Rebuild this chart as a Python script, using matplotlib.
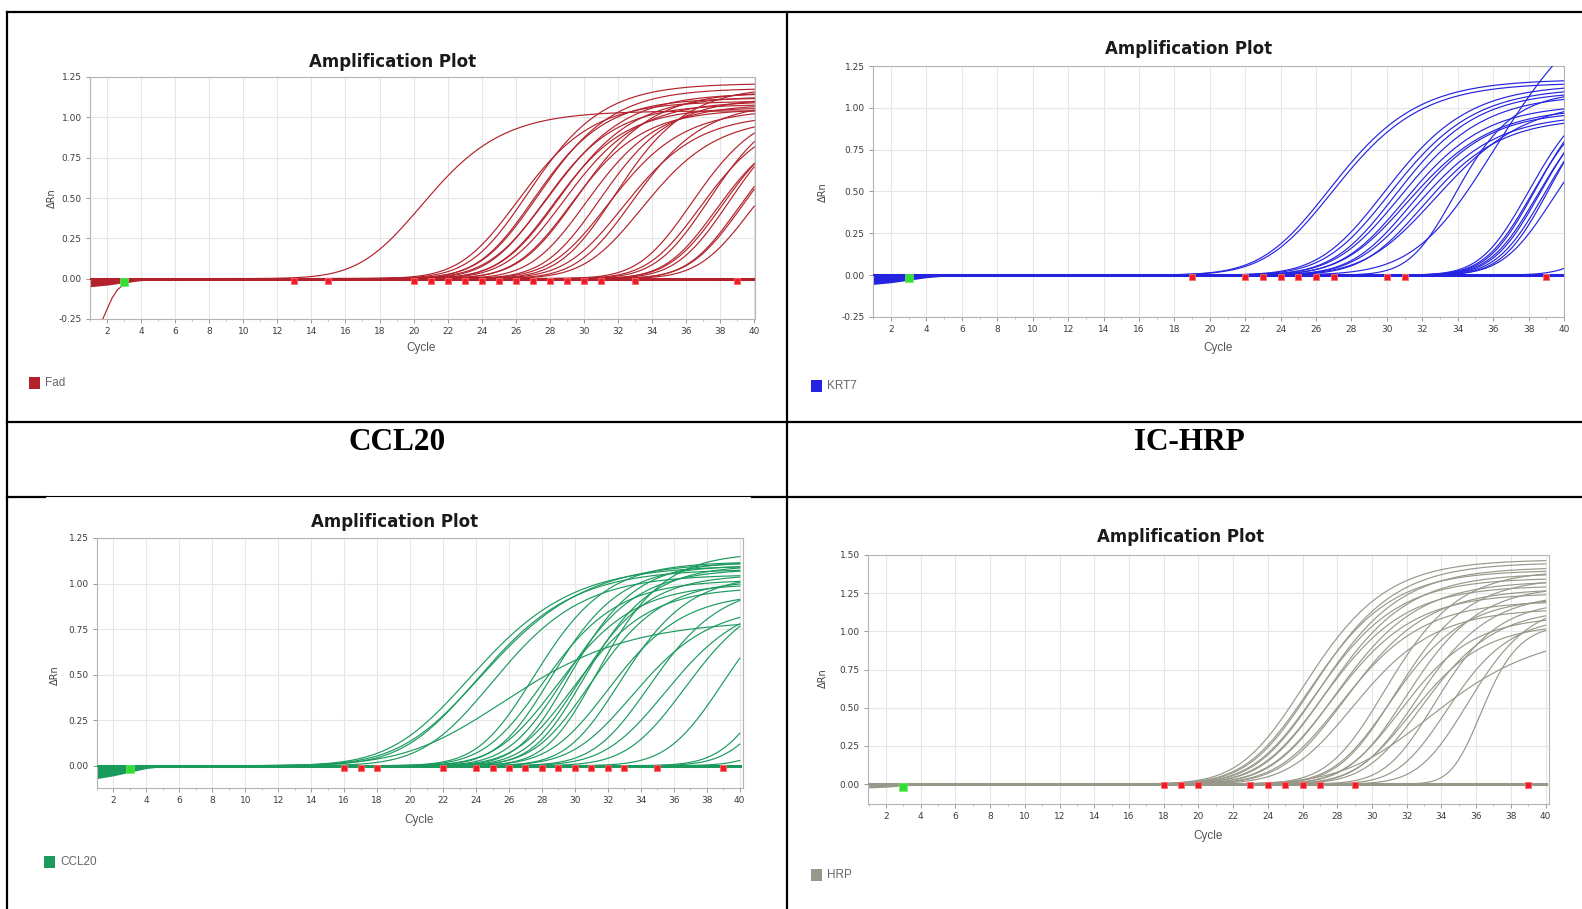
import numpy as np
import matplotlib
matplotlib.use("Agg")
import matplotlib.pyplot as plt
from matplotlib.patches import Rectangle

W, H = 1582, 909

# --- data ----------------------------------------------------------------
# every amplification curve: cycle at half plateau, plateau, width (cycles)
fad_half = [21.0, 26.6, 27.2, 27.5, 27.8, 28.1, 28.4, 28.7, 29.0, 29.3, 29.7,
            30.1, 30.6, 31.4, 31.9, 32.3, 32.8, 33.3, 33.9, 36.8, 37.3, 37.8,
            38.2, 38.6, 39.0, 39.5, 39.8, 40.3]
fad_top = [1.04, 1.10, 1.21, 1.12, 1.18, 1.08, 1.15, 1.06, 1.13, 1.10, 1.05,
           1.16, 1.08, 1.12, 1.05, 1.19, 1.02, 1.09, 1.00, 1.08, 1.02, 1.12,
           0.98, 1.05, 1.10, 1.00, 1.05, 0.98]
fad_width = [2.6, 2.4, 2.4, 2.3, 2.4, 2.3, 2.5, 2.3, 2.4, 2.4, 2.3,
             2.4, 2.3, 2.3, 2.4, 2.3, 2.4, 2.3, 2.4, 2.2, 2.2, 2.2,
             2.1, 2.2, 2.2, 2.1, 2.2, 2.2]
fad_ct = [13, 15, 20, 21, 22, 23, 24, 25, 26, 27, 28, 29, 30, 31, 33, 39]
fad_dip_cycles = [1.0, 1.5, 1.75, 2.0, 2.3, 2.6, 3.0, 3.5, 4.0, 5.0]
fad_dip_values = [-0.45, -0.32, -0.25, -0.19, -0.12, -0.07, -0.035, -0.015, -0.006, 0.0]
fad_base_low = [-0.05, -0.04, -0.025, -0.012, -0.005, 0.0]

krt_half = [27.3, 27.5, 30.4, 30.7, 31.0, 31.3, 31.5, 31.7, 31.9, 32.2, 32.5,
            33.3, 34.2, 36.8, 38.4, 38.6, 38.8, 38.9, 39.1, 39.3, 39.6, 39.8, 44.0]
krt_top = [1.17, 1.15, 1.14, 1.12, 1.10, 1.08, 1.02, 1.00, 0.98, 0.96, 0.94,
           1.05, 1.10, 1.75, 1.15, 1.12, 1.18, 1.10, 1.15, 1.12, 1.20, 1.05, 1.00]
krt_width = [2.7, 2.7, 2.6, 2.6, 2.5, 2.6, 2.5, 2.6, 2.4, 2.5, 2.4,
             2.8, 1.8, 3.2, 1.9, 1.9, 1.9, 1.9, 1.9, 1.9, 1.9, 2.0, 1.9]
krt_ct = [19, 22, 23, 24, 25, 26, 27, 30, 31, 39]
krt_base_low = [-0.055, -0.045, -0.03, -0.015, -0.006, 0.0]

ccl_half = [24.3, 24.7, 25.0, 25.6, 26.5, 28.0, 28.5, 29.0, 29.4, 29.8, 30.1,
            30.4, 30.7, 31.0, 31.4, 31.8, 32.5, 33.2, 34.0, 35.0, 36.0, 37.2,
            39.5, 42.5, 43.0, 45.0]
ccl_top = [1.10, 1.08, 1.12, 1.05, 0.80, 1.12, 1.02, 1.10, 1.00, 1.08, 1.12,
           0.98, 1.05, 1.10, 1.02, 1.17, 0.95, 1.05, 0.88, 1.00, 0.92, 0.98,
           1.05, 1.00, 0.90, 1.00]
ccl_width = [3.4, 3.2, 3.5, 3.0, 4.2, 2.4, 2.5, 2.3, 2.6, 2.4, 2.2,
             2.5, 2.3, 2.2, 2.4, 2.2, 2.5, 2.3, 2.6, 2.4, 2.6, 2.5,
             2.4, 2.2, 2.2, 2.2]
ccl_ct = [16, 17, 18, 22, 24, 25, 26, 27, 28, 29, 30, 31, 32, 33, 35, 39]
ccl_base_low = [-0.07, -0.055, -0.035, -0.015, -0.005, 0.0]

hrp_half = [26.6, 26.9, 27.1, 27.3, 27.5, 27.7, 27.9, 28.2, 28.4, 28.7, 29.0, 29.4,
            31.2, 31.5, 31.8, 32.1, 32.4, 32.7, 33.0, 33.3,
            34.0, 34.7, 35.9, 36.5, 34.0]
hrp_top = [1.47, 1.40, 1.45, 1.35, 1.42, 1.30, 1.38, 1.25, 1.33, 1.20, 1.28, 1.15,
           1.40, 1.22, 1.35, 1.10, 1.30, 1.05, 1.25, 1.15,
           1.20, 1.10, 1.20, 1.05, 1.00]
hrp_width = [2.6, 2.6, 2.6, 2.6, 2.6, 2.6, 2.6, 2.6, 2.6, 2.6, 2.6, 2.6,
             2.3, 2.3, 2.3, 2.3, 2.3, 2.3, 2.3, 2.3,
             2.0, 2.0, 2.0, 1.2, 3.5]
hrp_ct = [18, 19, 20, 23, 24, 25, 26, 27, 29, 39]
hrp_base_low = [-0.025, -0.02, -0.012, -0.005, -0.002, 0.0]

base_cycles = [1, 2, 3, 4, 5, 6]

# --- drawing ---------------------------------------------------------------
fig = plt.figure(figsize=(W / 100, H / 100), dpi=100)
fig.patch.set_facecolor("white")

bg = fig.add_axes([0, 0, 1, 1])
bg.set_xlim(0, W)
bg.set_ylim(H, 0)
bg.axis("off")
lw_tab = 1.6
bg.plot([7, W], [12, 12], color="black", lw=lw_tab)
bg.plot([7, 7], [12, H], color="black", lw=lw_tab)
bg.plot([787, 787], [12, H], color="black", lw=lw_tab)
bg.plot([7, W], [422, 422], color="black", lw=lw_tab)
bg.plot([45, 752], [496, 496], color="black", lw=0.8)
bg.plot([7, 45], [497, 497], color="black", lw=lw_tab)
bg.plot([752, W], [497, 497], color="black", lw=lw_tab)
bg.text(397, 443, "CCL20", ha="center", va="center", fontsize=22.5,
        fontweight="bold", family="Liberation Serif")
bg.text(1189, 443, "IC-HRP", ha="center", va="center", fontsize=22.5,
        fontweight="bold", family="Liberation Serif")

cyc = np.linspace(1, 40, 400)


def amp(c, half, top, width):
    m = half - 0.2246 * width
    return top * (1 + 0.4 * np.exp(-(c - m) / width)) ** (-2.5)


def panel(box, xlim, ylim, yticks, halves, tops, widths, ct, base_low, color,
          name, title_xy, cycle_xy, drn_xy, leg_xy, ct_y=-0.013):
    L, T, R, B = box
    ax = fig.add_axes([L / W, 1 - B / H, (R - L) / W, (B - T) / H])
    ax.set_xlim(*xlim)
    ax.set_ylim(*ylim)
    ax.set_xticks(np.arange(2, 41, 2))
    ax.set_xticks(np.arange(1, 41, 1), minor=True)
    ax.set_yticks(yticks)
    ax.set_yticklabels([f"{v:.2f}" for v in yticks])
    ax.grid(True, color="#e6e6e6", lw=0.8)
    ax.set_axisbelow(True)
    for s in ax.spines.values():
        s.set_color("#b4b4b4")
        s.set_linewidth(0.8)
    ax.tick_params(axis="both", labelsize=6.5, colors="#9a9a9a",
                   labelcolor="#3c3c3c", length=3, width=0.7, pad=3)
    ax.tick_params(axis="x", which="minor", length=1.5, colors="#b4b4b4")

    ax.fill_between(base_cycles, base_low, 0, color=color, lw=0, zorder=2)
    ax.plot([1, 40], [0, 0], color=color, lw=2.2, zorder=2)
    for h, t, w in zip(halves, tops, widths):
        ax.plot(cyc, amp(cyc, h, t, w), color=color, lw=0.85, zorder=3)
    ax.plot(ct, [ct_y] * len(ct), ls="none", marker="s", ms=4.2,
            mfc="#ee1c24", mec="#ff6a6a", mew=0.6, zorder=5)
    ax.plot([3], [-0.018], ls="none", marker="s", ms=6, mfc="#33dd33",
            mec="#66ee66", mew=0.5, zorder=5)

    fig.text(title_xy[0] / W, 1 - title_xy[1] / H, "Amplification Plot",
             ha="center", va="center", fontsize=12, fontweight="bold",
             family="DejaVu Sans", color="#1a1a1a")
    fig.text(cycle_xy[0] / W, 1 - cycle_xy[1] / H, "Cycle", ha="center",
             va="center", fontsize=8.5, color="#555555", family="Liberation Sans")
    fig.text(drn_xy[0] / W, 1 - drn_xy[1] / H, "ΔRn", ha="center", va="center",
             fontsize=7, color="#444444", rotation=90, family="DejaVu Sans")
    lx, ly = leg_xy
    bg.add_patch(Rectangle((lx, ly - 6), 11, 12, color=color, lw=0))
    bg.text(lx + 16, ly, name, ha="left", va="center", fontsize=8.5,
            color="#666666", family="Liberation Sans")
    return ax


ax1 = panel((90, 77, 755, 319), (1.0, 40.05), (-0.25, 1.25),
            [-0.25, 0, 0.25, 0.5, 0.75, 1.0, 1.25],
            fad_half, fad_top, fad_width, fad_ct, fad_base_low, "#b3222c", "Fad",
            (393, 62), (421, 348), (52, 198), (29, 383))
ax1.plot(fad_dip_cycles, fad_dip_values, color="#b3222c", lw=0.85, zorder=3)

panel((873, 66, 1564, 317), (0.98, 40.0), (-0.25, 1.25),
      [-0.25, 0, 0.25, 0.5, 0.75, 1.0, 1.25],
      krt_half, krt_top, krt_width, krt_ct, krt_base_low, "#2424e0", "KRT7",
      (1189, 49), (1218, 348), (823, 192), (811, 386))

panel((97, 538, 743, 788), (1.03, 40.2), (-0.122, 1.25),
      [0, 0.25, 0.5, 0.75, 1.0, 1.25],
      ccl_half, ccl_top, ccl_width, ccl_ct, ccl_base_low, "#1b9a5e", "CCL20",
      (395, 522), (419, 820), (55, 675), (44, 862))

panel((868, 555, 1549, 804), (0.96, 40.2), (-0.13, 1.5),
      [0, 0.25, 0.5, 0.75, 1.0, 1.25, 1.5],
      hrp_half, hrp_top, hrp_width, hrp_ct, hrp_base_low, "#98988a", "HRP",
      (1181, 537), (1208, 836), (823, 678), (811, 875), ct_y=-0.008)

fig.savefig("out.png", dpi=100, facecolor="white")
